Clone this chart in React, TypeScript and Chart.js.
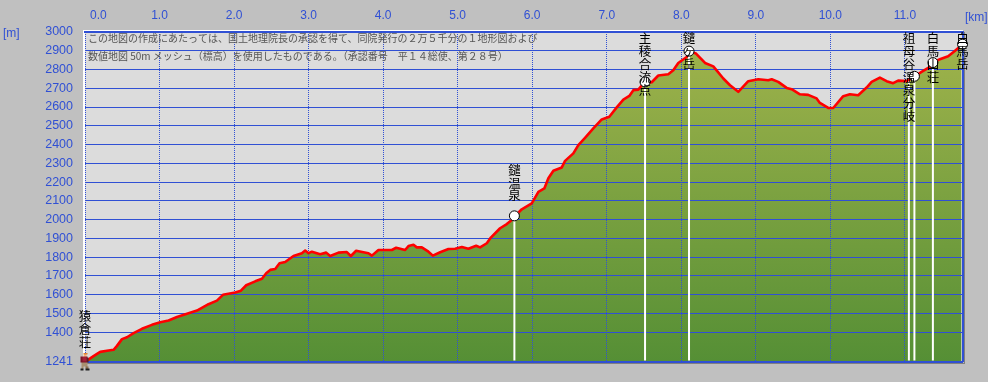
import React, { useEffect, useRef } from "react";
import { Chart, registerables } from "chart.js";

Chart.register(...registerables);

// Elevation profile
const distanceKm = [0, 0.094, 0.161, 0.205, 0.316, 0.384, 0.429, 0.496, 0.563, 0.652, 0.764, 0.898, 1.01, 1.121, 1.234, 1.389, 1.502, 1.657, 1.77, 1.851, 2.016, 2.092, 2.163, 2.284, 2.374, 2.431, 2.485, 2.552, 2.61, 2.686, 2.797, 2.91, 2.954, 2.999, 3.044, 3.155, 3.236, 3.29, 3.401, 3.513, 3.567, 3.638, 3.736, 3.803, 3.849, 3.937, 4.117, 4.175, 4.295, 4.34, 4.407, 4.452, 4.519, 4.608, 4.667, 4.765, 4.876, 4.966, 5.056, 5.144, 5.248, 5.301, 5.391, 5.445, 5.569, 5.659, 5.726, 5.77, 5.837, 5.86, 5.994, 6.083, 6.163, 6.217, 6.284, 6.397, 6.441, 6.552, 6.619, 6.709, 6.82, 6.933, 7.035, 7.134, 7.223, 7.303, 7.357, 7.424, 7.491, 7.604, 7.692, 7.826, 7.893, 7.96, 8.073, 8.1, 8.198, 8.319, 8.43, 8.564, 8.654, 8.765, 8.899, 9.033, 9.167, 9.213, 9.301, 9.414, 9.481, 9.592, 9.703, 9.816, 9.86, 9.972, 10.039, 10.173, 10.263, 10.374, 10.487, 10.554, 10.665, 10.755, 10.843, 10.91, 11.023, 11.134, 11.224, 11.336, 11.38, 11.47, 11.581, 11.67, 11.76];
const elevationM = [1241, 1267, 1284, 1295, 1302, 1306, 1327, 1363, 1373, 1395, 1418, 1439, 1453, 1462, 1481, 1501, 1515, 1549, 1568, 1599, 1611, 1621, 1650, 1671, 1685, 1714, 1732, 1737, 1767, 1774, 1806, 1821, 1835, 1821, 1829, 1815, 1824, 1806, 1824, 1827, 1806, 1834, 1826, 1821, 1808, 1838, 1838, 1850, 1838, 1859, 1866, 1852, 1852, 1829, 1808, 1826, 1843, 1845, 1854, 1845, 1861, 1852, 1874, 1904, 1954, 1976, 1998, 2019, 2046, 2055, 2087, 2148, 2166, 2220, 2260, 2278, 2313, 2353, 2397, 2436, 2486, 2534, 2548, 2598, 2640, 2659, 2690, 2693, 2725, 2732, 2768, 2775, 2796, 2835, 2867, 2898, 2885, 2835, 2817, 2752, 2716, 2681, 2738, 2748, 2743, 2748, 2734, 2702, 2695, 2668, 2665, 2646, 2622, 2595, 2595, 2658, 2668, 2663, 2704, 2734, 2757, 2738, 2727, 2741, 2738, 2764, 2787, 2814, 2837, 2855, 2871, 2899, 2929];

// Scale ticks
const xTicks = [0, 1, 2, 3, 4, 5, 6, 7, 8, 9, 10, 11];
const yTicks = [1241, 1400, 1500, 1600, 1700, 1800, 1900, 2000, 2100, 2200, 2300, 2400, 2500, 2600, 2700, 2800, 2900, 3000];
const xMax = 11.78;

// Landmarks
const labelNames = ["猿倉荘", "鑓温泉", "主稜合流点", "鑓ヶ岳", "祖母谷温泉分岐", "白馬山荘", "白馬岳"];
const labelKm = [0, 5.761, 7.514, 8.104, 11.054, 11.376, 11.774];
const labelElev = [1241, 2020, 2734, 2898, 2745, 2837, 2935];
const stemKm = [5.761, 7.514, 8.104, 11.054, 11.128, 11.376];
const stemElev = [2020, 2734, 2898, 2745, 2764, 2837];
const markerKm = [5.761, 7.514, 8.104, 11.128, 11.376, 11.774];
const markerElev = [2020, 2734, 2898, 2764, 2837, 2935];

// Full-width digits and brackets, written as escapes so they stay full-width
const noteLines = [
  "この地図の作成にあたっては、国土地理院長の承認を得て、同院発行の\uFF12万\uFF15千分の\uFF11地形図および",
  "数値地図 50m メッシュ\uFF08標高\uFF09を使用したものである。\uFF08承認番号\u3000平\uFF11\uFF14総使、第\uFF12\uFF18号\uFF09",
];

const BLUE = "#3050d4";
const CJK = '"Noto Sans CJK JP", "Noto Sans", sans-serif';

function makeHiker() {
  const c = document.createElement("canvas");
  c.width = 11;
  c.height = 19;
  const g = c.getContext("2d")!;
  const r = (col: string, x: number, y: number, w: number, h: number) => {
    g.fillStyle = col;
    g.fillRect(x, y, w, h);
  };
  r("#e08030", 4, 0, 4, 2);
  r("#f0b080", 4, 2, 3, 2);
  r("#7a1428", 1, 4, 7, 6);
  r("#a02038", 3, 4, 4, 5);
  r("#303030", 8, 5, 1, 5);
  r("#a89070", 2, 10, 6, 4);
  r("#a89070", 2, 14, 2, 2);
  r("#8a7050", 6, 14, 3, 2);
  r("#202020", 1, 16, 3, 2);
  r("#202020", 6, 16, 4, 2);
  return c;
}

export default function App() {
  const ref = useRef<HTMLCanvasElement>(null);

  useEffect(() => {
    const profile = distanceKm.map((x, i) => ({ x, y: elevationM[i] }));
    const yMin = yTicks[0];

    const stems = stemKm.map((x, i) => ({
      type: "line" as const,
      data: [{ x, y: yMin + 8 }, { x, y: stemElev[i] }],
      borderColor: "#ffffff",
      borderWidth: 2,
      pointRadius: 0,
      fill: false,
      order: 5,
    }));

    const overlay = {
      id: "overlay",
      afterDatasetDraw(chart: any, args: any) {
        if (args.index !== 0) return;
        const { ctx, chartArea: a } = chart;
        chart.scales.y.drawGrid(a);
        chart.scales.x.drawGrid(a);
        // frame, beneath the marks
        ctx.save();
        ctx.fillStyle = "#ffffff";
        ctx.fillRect(a.left - 2, a.top - 2, 2, a.bottom - a.top + 2);
        ctx.fillRect(a.left - 2, a.top - 2, a.right - a.left + 2, 1);
        ctx.fillStyle = BLUE;
        ctx.fillRect(a.left - 1, a.top - 1, a.right - a.left + 2, 2);
        ctx.fillRect(a.right - 1, a.top - 1, 2, a.bottom - a.top + 1);
        ctx.fillRect(a.left, a.bottom - 1, a.right - a.left, 2);
        ctx.fillStyle = "#808080";
        ctx.fillRect(a.right + 1, a.top, 1, a.bottom - a.top + 2);
        ctx.fillRect(a.left - 1, a.bottom + 1, a.right - a.left + 2, 1);
        ctx.restore();
      },
      afterDatasetsDraw(chart: any) {
        const { ctx, chartArea: a, scales } = chart;
        ctx.save();
        // note
        ctx.fillStyle = "#555555";
        ctx.font = `10px ${CJK}`;
        ctx.textAlign = "left";
        ctx.textBaseline = "middle";
        noteLines.forEach((t, i) => ctx.fillText(t, a.left + 3, a.top + 6.5 + i * 17.5));
        // landmark names, stacked vertically
        ctx.fillStyle = "#000000";
        ctx.font = `12.5px ${CJK}`;
        ctx.textAlign = "center";
        labelNames.forEach((name, i) => {
          const cx = scales.x.getPixelForValue(labelKm[i]);
          const my = scales.y.getPixelForValue(labelElev[i]);
          const first = Math.max(a.top + 6.5, my - 20 - (name.length - 1) * 13);
          [...name].forEach((ch, j) => ctx.fillText(ch, cx, first + j * 12.9));
        });
        // units
        ctx.fillStyle = BLUE;
        ctx.font = '12px "Liberation Sans", sans-serif';
        ctx.textAlign = "left";
        ctx.fillText("[m]", 3, a.top + 2);
        ctx.fillText("[km]", a.right + 2, 17.5);
        ctx.restore();
      },
    };

    const chart = new Chart(ref.current!, {
      type: "line",
      data: {
        datasets: [
          {
            data: profile,
            borderWidth: 0,
            pointRadius: 0,
            fill: "start",
            order: 10,
            backgroundColor: (c: any) => {
              const a = c.chart.chartArea;
              if (!a) return "#7a9f40";
              const g = c.chart.ctx.createLinearGradient(0, a.bottom, 0, a.top);
              g.addColorStop(0, "#558f35");
              g.addColorStop(1, "#a2b44c");
              return g;
            },
          },
          ...stems,
          {
            data: profile,
            borderColor: "#ff0000",
            borderWidth: 2.6,
            borderJoinStyle: "round",
            pointRadius: 0,
            fill: false,
            order: 3,
            clip: false,
          },
          {
            data: markerKm.map((x, i) => ({ x, y: markerElev[i] })),
            showLine: false,
            pointRadius: 5,
            pointBackgroundColor: "#ffffff",
            pointBorderColor: "#000000",
            pointBorderWidth: 1,
            order: 2,
            clip: false,
          },
          {
            data: [{ x: 0, y: yMin }],
            showLine: false,
            pointStyle: makeHiker(),
            order: 1,
            clip: false,
          },
        ] as any,
      },
      options: {
        responsive: false,
        animation: false,
        events: [],
        layout: { padding: { right: 25, bottom: 20, top: 0, left: 0 } },
        plugins: { legend: { display: false }, tooltip: { enabled: false } },
        scales: {
          x: {
            type: "linear",
            position: "top",
            min: 0,
            max: xMax,
            afterBuildTicks: (s: any) => {
              s.ticks = xTicks.map((value) => ({ value }));
            },
            afterFit: (s: any) => {
              s.height = 32;
            },
            border: { display: false, dash: [1, 1] },
            grid: { color: BLUE, lineWidth: 1, drawTicks: false, z: -1 },
            ticks: {
              color: BLUE,
              padding: 9,
              maxRotation: 0,
              autoSkip: false,
              font: { family: "Liberation Sans", size: 12 },
              // the first label sits to the right of its line
              callback: (v: any) => (Number(v) === 0 ? "        0.0" : Number(v).toFixed(1)),
            },
          },
          y: {
            type: "linear",
            min: yMin,
            max: 3000,
            afterBuildTicks: (s: any) => {
              s.ticks = yTicks.map((value) => ({ value }));
            },
            afterFit: (s: any) => {
              s.width = 85;
            },
            border: { display: false },
            grid: { color: BLUE, lineWidth: 1, drawTicks: false, z: -1 },
            ticks: {
              color: BLUE,
              padding: 12,
              autoSkip: false,
              font: { family: "Liberation Sans", size: 12.5 },
              callback: (v: any) => String(v),
            },
          },
        },
      } as any,
      plugins: [
        overlay,
        {
          id: "plotBg",
          beforeDraw(c: any) {
            const { ctx, chartArea: a, width, height } = c;
            ctx.save();
            ctx.fillStyle = "#c0c0c0";
            ctx.fillRect(0, 0, width, height);
            ctx.fillStyle = "#dcdcdc";
            ctx.fillRect(a.left, a.top, a.right - a.left, a.bottom - a.top);
            ctx.restore();
          },
        },
      ],
    });

    return () => chart.destroy();
  }, []);

  return (
    <div style={{ position: "fixed", left: 0, top: 0, width: 988, height: 382 }}>
      <canvas ref={ref} width={988} height={382} style={{ display: "block" }} />
    </div>
  );
}
